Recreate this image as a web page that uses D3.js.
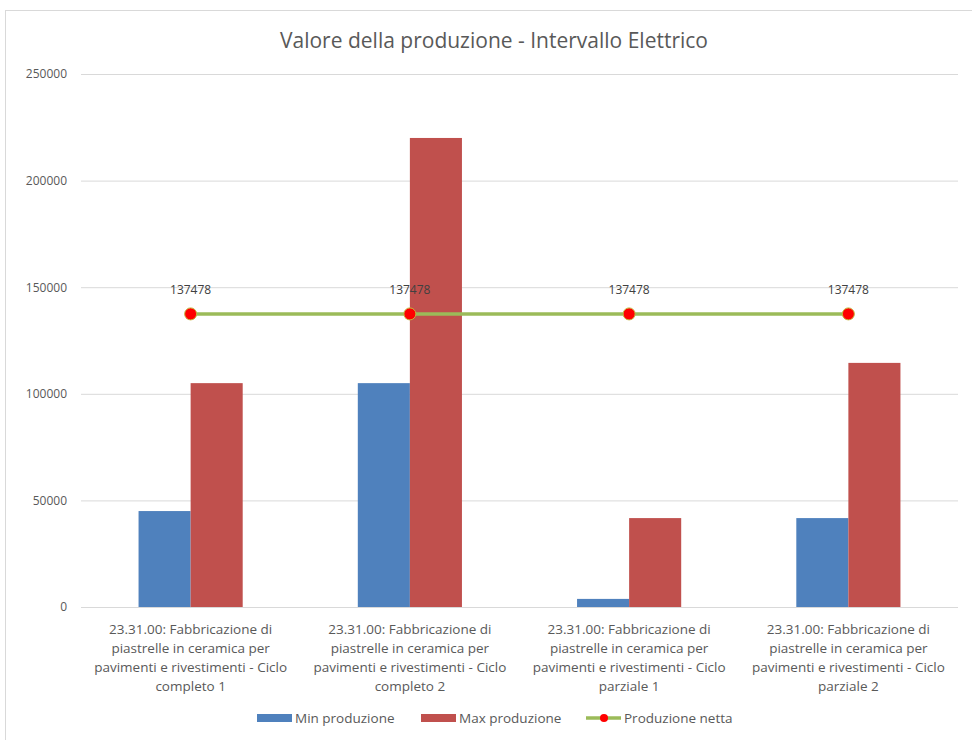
<!DOCTYPE html>
<html>
<head>
<meta charset="utf-8">
<script src="https://cdn.jsdelivr.net/npm/d3@7"></script>
<style>
  body { margin: 0; background: #fff; }
  text { font-family: "Open Sans", "Liberation Sans", sans-serif; }
</style>
</head>
<body>
<script>
// data
var categories = [
  ["23.31.00: Fabbricazione di", "piastrelle in ceramica per", "pavimenti e rivestimenti - Ciclo", "completo 1"],
  ["23.31.00: Fabbricazione di", "piastrelle in ceramica per", "pavimenti e rivestimenti - Ciclo", "completo 2"],
  ["23.31.00: Fabbricazione di", "piastrelle in ceramica per", "pavimenti e rivestimenti - Ciclo", "parziale 1"],
  ["23.31.00: Fabbricazione di", "piastrelle in ceramica per", "pavimenti e rivestimenti - Ciclo", "parziale 2"]
];
var minProduzione = [45000, 105000, 3800, 41700];
var maxProduzione = [105000, 220000, 41700, 114500];
var produzioneNetta = [137478, 137478, 137478, 137478];
var yTicks = [0, 50000, 100000, 150000, 200000, 250000];
var seriesNames = ["Min produzione", "Max produzione", "Produzione netta"];

var W = 972, H = 740;
var margin = {left: 81, right: 14, top: 74, bottom: 133};
var colors = {min: "#4f81bd", max: "#c0504d", line: "#9bbb59", dot: "#ff0000"};

var svg = d3.select("body").append("svg")
  .attr("width", W)
  .attr("height", H);

// chart frame
svg.append("rect")
  .attr("x", 5.5).attr("y", 10.5)
  .attr("width", 970).attr("height", 740)
  .attr("fill", "#fff")
  .attr("stroke", "#d9d9d9");

svg.append("text")
  .attr("x", 494).attr("y", 48)
  .attr("text-anchor", "middle")
  .attr("font-size", 21)
  .attr("fill", "#595959")
  .text("Valore della produzione - Intervallo Elettrico");

var x = d3.scaleBand()
  .domain(d3.range(categories.length))
  .range([margin.left, W - margin.right])
  .paddingInner(0.525)
  .paddingOuter(0.2625);

var xIn = d3.scaleBand()
  .domain([0, 1])
  .range([0, x.bandwidth()]);

var y = d3.scaleLinear()
  .domain([0, 250000])
  .range([H - margin.bottom, margin.top]);

// gridlines + y labels
var yAxis = svg.append("g")
  .attr("transform", "translate(" + margin.left + ",0)")
  .call(d3.axisLeft(y).tickValues(yTicks).tickSize(-(W - margin.left - margin.right)).tickPadding(14).tickFormat(d3.format("d")));
yAxis.select(".domain").remove();
yAxis.selectAll(".tick line").attr("stroke", "#d9d9d9");
yAxis.selectAll(".tick text").attr("font-size", 12).attr("fill", "#595959");

function center(i) { return x(i) + x.bandwidth() / 2; }

// bars
svg.append("g").selectAll("rect")
  .data(minProduzione)
  .enter().append("rect")
  .attr("x", function(d, i){ return x(i) + xIn(0); })
  .attr("y", function(d){ return y(d); })
  .attr("width", xIn.bandwidth())
  .attr("height", function(d){ return y(0) - y(d); })
  .attr("fill", colors.min);

svg.append("g").selectAll("rect")
  .data(maxProduzione)
  .enter().append("rect")
  .attr("x", function(d, i){ return x(i) + xIn(1); })
  .attr("y", function(d){ return y(d); })
  .attr("width", xIn.bandwidth())
  .attr("height", function(d){ return y(0) - y(d); })
  .attr("fill", colors.max);

// line series
var line = d3.line()
  .x(function(d, i){ return center(i); })
  .y(function(d){ return y(d); });

svg.append("path")
  .datum(produzioneNetta)
  .attr("d", line)
  .attr("fill", "none")
  .attr("stroke", colors.line)
  .attr("stroke-width", 3.5);

svg.append("g").selectAll("circle")
  .data(produzioneNetta)
  .enter().append("circle")
  .attr("cx", function(d, i){ return center(i); })
  .attr("cy", function(d){ return y(d); })
  .attr("r", 6)
  .attr("fill", colors.dot)
  .attr("stroke", "#c5b53a")
  .attr("stroke-width", 1);

svg.append("g").selectAll("text")
  .data(produzioneNetta)
  .enter().append("text")
  .attr("x", function(d, i){ return center(i); })
  .attr("y", function(d){ return y(d) - 20; })
  .attr("text-anchor", "middle")
  .attr("font-size", 12)
  .attr("fill", "#404040")
  .text(function(d){ return d; });

// category labels
var catG = svg.append("g").selectAll("text")
  .data(categories)
  .enter().append("text")
  .attr("text-anchor", "middle")
  .attr("font-size", 13.5)
  .attr("fill", "#595959");
catG.selectAll("tspan")
  .data(function(d, i){ return d.map(function(s){ return {s: s, i: i}; }); })
  .enter().append("tspan")
  .attr("x", function(d){ return center(d.i); })
  .attr("y", function(d, j){ return y(0) + 27 + j * 19; })
  .text(function(d){ return d.s; });

// legend
var legend = svg.append("g").attr("transform", "translate(0,718)");
var lx = [257, 421, 586];
legend.append("rect").attr("x", lx[0]).attr("y", -4).attr("width", 35).attr("height", 8).attr("fill", colors.min);
legend.append("rect").attr("x", lx[1]).attr("y", -4).attr("width", 35).attr("height", 8).attr("fill", colors.max);
legend.append("line").attr("x1", lx[2]).attr("x2", lx[2] + 35).attr("y1", 0).attr("y2", 0)
  .attr("stroke", colors.line).attr("stroke-width", 3.5);
legend.append("circle").attr("cx", lx[2] + 18).attr("cy", 0).attr("r", 4).attr("fill", colors.dot);
legend.selectAll("text.lg")
  .data(seriesNames)
  .enter().append("text")
  .attr("class", "lg")
  .attr("x", function(d, i){ return lx[i] + 38; })
  .attr("y", 4.5)
  .attr("font-size", 13.5)
  .attr("fill", "#595959")
  .text(function(d){ return d; });
</script>
</body>
</html>
